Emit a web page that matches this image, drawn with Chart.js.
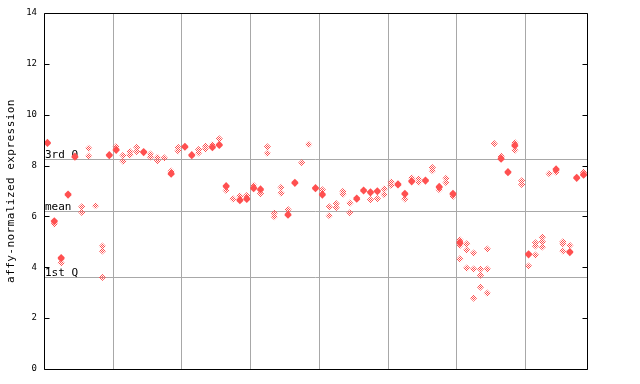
<!DOCTYPE html>
<html><head><meta charset="utf-8">
<script src="https://cdn.jsdelivr.net/npm/chart.js@4/dist/chart.umd.min.js"></script>
<style>html,body{margin:0;padding:0;background:#fff}#wrap{width:640px;height:384px}</style>
</head><body><div id="wrap"><canvas id="c" width="640" height="384"></canvas></div>
<script>
// ---- data ----
const sampleCount = 79;
const groupBoundaries = [10, 20, 30, 40, 50, 60, 70];
const yTickValues = [0, 2, 4, 6, 8, 10, 12, 14];
const quartileLabels = ['3rd Q', 'mean', '1st Q'];
const quartileValues = [8.24, 6.23, 3.63];
const yTitle = 'affy-normalized expression';

const rep1 = [8.91,5.83,4.38,6.88,8.37,6.38,8.68,6.42,4.83,8.43,
  8.75,8.40,8.55,8.72,8.55,8.45,8.32,8.30,7.78,8.72,
  8.76,8.43,8.63,8.77,8.82,9.05,7.21,6.69,6.80,6.82,
  7.22,7.08,8.74,6.13,7.14,6.27,7.34,8.11,8.83,7.13,
  7.05,6.38,6.50,6.99,6.52,6.72,7.04,6.97,7.01,7.08,
  7.35,7.28,6.91,7.52,7.48,7.43,7.92,7.18,7.50,6.91,
  5.08,4.92,4.56,3.93,4.72,8.86,8.37,7.76,8.90,7.40,
  4.53,4.96,5.19,7.68,7.87,5.00,4.86,7.54,7.74];
const rep2 = [8.87,5.79,4.34,6.84,8.33,6.16,8.37,null,4.64,8.39,
  8.64,8.17,8.42,8.55,8.51,8.34,8.19,null,7.70,8.58,
  8.72,8.39,8.50,8.65,8.74,8.83,7.17,null,6.66,6.71,
  7.13,7.04,8.48,5.99,6.92,6.09,7.30,null,null,7.09,
  6.88,6.03,6.35,6.88,6.14,6.68,7.00,6.93,6.97,6.86,
  7.22,7.24,6.87,7.40,7.34,7.39,7.80,7.14,7.33,6.87,
  4.99,4.68,3.93,3.69,3.93,null,8.29,7.72,8.81,7.26,
  4.49,4.84,5.00,null,7.83,4.92,4.62,7.50,7.66];
const rep3 = [null,5.70,4.17,null,null,null,null,null,3.60,null,
  8.60,null,null,null,null,null,null,null,7.66,null,
  null,null,null,null,8.70,8.79,7.02,null,6.62,6.67,
  7.09,6.90,null,null,null,6.05,null,null,null,null,
  6.84,null,null,null,null,null,null,6.66,6.70,null,
  null,null,6.69,7.36,null,null,null,7.05,null,6.79,
  4.95,3.97,2.79,3.22,2.98,null,8.25,null,8.77,null,
  4.05,4.48,4.80,null,7.74,4.64,4.58,null,7.62];
const rep4 = Array.from({length: 79}, (_, i) => i === 60 ? 4.86 : (i === 68 ? 8.60 : null));
const rep5 = Array.from({length: 79}, (_, i) => i === 60 ? 4.33 : null);
const replicates = [rep1, rep2, rep3, rep4, rep5];

// ---- build points ----
const points = [];
const solid = [];
for (let i = 0; i < sampleCount; i++) {
  const vals = replicates.map(r => r[i]).filter(v => v !== null && v !== undefined);
  vals.forEach((v, k) => {
    points.push({x: i + 0.5, y: v});
    solid.push(vals.some((w, j) => j !== k && Math.abs(w - v) < 0.06));
  });
}

const RED = '#ff5050';
const pc = document.createElement('canvas');
pc.width = 2; pc.height = 2;
const pctx = pc.getContext('2d');
pctx.fillStyle = RED;
pctx.fillRect(0, 0, 1, 1);
pctx.fillRect(1, 1, 1, 1);
const hatch = document.getElementById('c').getContext('2d').createPattern(pc, 'repeat');

const MONO = '"DejaVu Sans Mono", "Liberation Mono", monospace';

const decor = {
  id: 'decor',
  beforeDatasetsDraw(chart) {
    const {ctx, chartArea: a, scales: {x, y}} = chart;
    ctx.save();
    ctx.strokeStyle = '#a8a8a8';
    ctx.lineWidth = 1;
    groupBoundaries.forEach(g => {
      const px = Math.round(x.getPixelForValue(g)) + 0.5;
      ctx.beginPath(); ctx.moveTo(px, a.top); ctx.lineTo(px, a.bottom); ctx.stroke();
    });
    quartileValues.forEach(q => {
      const py = Math.round(y.getPixelForValue(q)) + 0.5;
      ctx.beginPath(); ctx.moveTo(a.left, py); ctx.lineTo(a.right, py); ctx.stroke();
    });
    ctx.fillStyle = '#000';
    ctx.font = '11px ' + MONO;
    ctx.textAlign = 'left';
    ctx.textBaseline = 'alphabetic';
    quartileValues.forEach((q, k) => {
      const py = Math.round(y.getPixelForValue(q));
      ctx.fillText(quartileLabels[k], a.left + 1, py - 1);
    });
    ctx.restore();
  },
  afterDatasetsDraw(chart) {
    const {ctx, chartArea: a, scales: {y}} = chart;
    ctx.save();
    ctx.strokeStyle = '#000';
    ctx.lineWidth = 1;
    const L = Math.round(a.left) + 0.5, R = Math.round(a.right) + 0.5;
    const T = Math.round(a.top) + 0.5, B = Math.round(a.bottom) + 0.5;
    ctx.beginPath();
    ctx.moveTo(L, T); ctx.lineTo(R, T); ctx.lineTo(R, B); ctx.lineTo(L, B); ctx.closePath();
    ctx.stroke();
    yTickValues.forEach(v => {
      const py = Math.round(y.getPixelForValue(v)) + 0.5;
      ctx.beginPath();
      ctx.moveTo(L, py); ctx.lineTo(L + 5, py);
      ctx.moveTo(R, py); ctx.lineTo(R - 5, py);
      ctx.stroke();
    });
    // y title
    ctx.fillStyle = '#000';
    ctx.font = '11px ' + MONO;
    ctx.textAlign = 'center';
    ctx.textBaseline = 'middle';
    try { ctx.letterSpacing = '0.45px'; } catch (e) {}
    ctx.translate(11, (a.top + a.bottom) / 2);
    ctx.rotate(-Math.PI / 2);
    ctx.fillText(yTitle, 0, 0);
    ctx.restore();
  }
};

new Chart(document.getElementById('c'), {
  type: 'scatter',
  data: {
    datasets: [{
      data: points,
      pointStyle: 'rectRot',
      pointRadius: 3.6,
      pointBorderWidth: 0,
      borderWidth: 0,
      pointBackgroundColor: ctx => solid[ctx.dataIndex] ? RED : hatch,
      backgroundColor: RED
    }]
  },
  options: {
    responsive: false,
    animation: false,
    events: [],
    layout: {padding: {left: 0, top: 13, right: 53, bottom: 15}},
    plugins: {legend: {display: false}, tooltip: {enabled: false}},
    scales: {
      x: {type: 'linear', min: 0, max: sampleCount, display: false},
      y: {
        min: 0, max: 14,
        afterBuildTicks: s => { s.ticks = yTickValues.map(v => ({value: v})); },
        ticks: {font: {family: MONO, size: 9}, color: '#000', padding: 7},
        grid: {display: false, drawTicks: false},
        border: {display: false},
        afterFit: s => { s.width = 44; }
      }
    }
  },
  plugins: [decor]
});
</script>
</body></html>
